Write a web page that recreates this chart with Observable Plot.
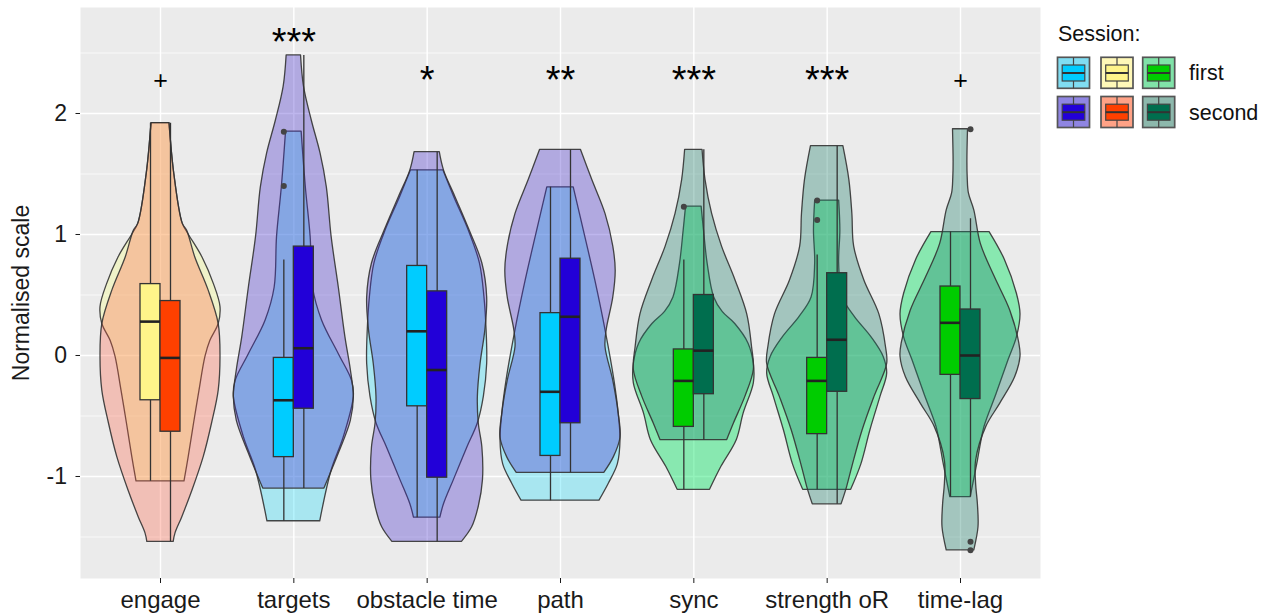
<!DOCTYPE html>
<html><head><meta charset="utf-8">
<script src="https://cdn.jsdelivr.net/npm/d3@7"></script>
<script src="https://cdn.jsdelivr.net/npm/@observablehq/plot@0.6"></script>
<style>
body{margin:0;background:#fff;}
#wrap{position:relative;width:1274px;height:616px;font-family:"Liberation Sans",Arial,Helvetica,sans-serif;}
#legend{position:absolute;left:1040px;top:0;}
</style></head><body><div id="wrap"></div>
<script>
// ---- data ----
const categories = ["engage","targets","obstacle time","path","sync","strength oR","time-lag"];
const sessions = ["first","second"];
const significance = ["+","***","*","**","***","***","+"];
const significanceY = [2.27,2.58,2.27,2.27,2.27,2.27,2.27];
const yTicks = [-1,0,1,2];
const yMinor = [-1.5,-0.5,0.5,1.5,2.5];

// violin profiles: [value, relative width (1 = widest)]
const engageFirst = [[1.92,.15],[1.5,.23],[1.09,.37],[1.0,.47],[0.81,.70],[0.59,.89],[0.40,1.0],[0.26,.97],[0.12,.83],[-0.01,.75],[-0.29,.65],[-0.56,.56],[-0.84,.47],[-1.04,.40]];
const engageSecond = [[1.92,.15],[1.5,.23],[1.09,.37],[1.03,.445],[0.81,.58],[0.54,.80],[0.26,.97],[-0.01,1.0],[-0.29,.97],[-0.56,.86],[-0.84,.72],[-1.12,.53],[-1.34,.36],[-1.47,.25],[-1.54,.22]];
const targetsFirst = [[1.85,.13],[1.39,.20],[0.98,.28],[0.56,.32],[0.29,.47],[0.01,.75],[-0.21,.97],[-0.34,1.0],[-0.68,.83],[-0.95,.63],[-1.37,.44]];
const targetsSecond = [[2.48,.12],[2.22,.17],[1.94,.30],[1.67,.445],[1.39,.55],[0.98,.63],[0.56,.75],[0.15,.86],[-0.12,.95],[-0.34,1.0],[-0.54,.95],[-0.81,.75],[-1.10,.51]];
const obstacleFirst = [[1.53,.27],[1.31,.45],[1.03,.695],[0.76,.88],[0.48,.955],[0.21,.99],[-0.07,1.0],[-0.34,.945],[-0.56,.845],[-0.76,.67],[-1.03,.445],[-1.23,.28],[-1.34,.22]];
const obstacleSecond = [[1.68,.21],[1.53,.28],[1.31,.47],[1.03,.71],[0.76,.92],[0.48,1.0],[0.21,.97],[-0.07,.89],[-0.34,.845],[-0.56,.86],[-0.76,.92],[-1.03,.93],[-1.25,.86],[-1.42,.75],[-1.54,.58]];
const pathFirst = [[1.39,.22],[1.03,.39],[0.62,.58],[0.21,.75],[-0.21,.90],[-0.48,.97],[-0.70,1.0],[-0.90,.955],[-1.06,.805],[-1.20,.65]];
const pathSecond = [[1.70,.34],[1.45,.53],[1.17,.75],[0.90,.88],[0.70,.92],[0.48,.88],[0.21,.77],[0.07,.75],[-0.21,.88],[-0.48,.97],[-0.68,1.0],[-0.84,.89],[-0.97,.73]];
const syncFirst = [[1.23,.13],[1.03,.17],[0.76,.23],[0.48,.34],[0.36,.48],[0.26,.69],[0.10,.91],[-0.07,1.0],[-0.23,1.0],[-0.48,.83],[-0.70,.715],[-0.92,.46],[-1.11,.27]];
const syncSecond = [[1.70,.145],[1.45,.195],[1.17,.305],[0.90,.47],[0.62,.695],[0.34,.89],[0.07,.97],[-0.12,1.0],[-0.34,.86],[-0.56,.67],[-0.70,.555]];
const strengthFirst = [[1.28,.20],[1.03,.22],[0.76,.20],[0.48,.26],[0.32,.46],[0.15,.74],[-0.01,.94],[-0.15,1.0],[-0.34,.89],[-0.62,.72],[-0.90,.57],[-1.11,.40]];
const strengthSecond = [[1.73,.27],[1.45,.37],[1.17,.42],[0.90,.45],[0.62,.62],[0.34,.87],[0.07,.98],[-0.07,1.0],[-0.34,.79],[-0.62,.59],[-0.92,.42],[-1.10,.325],[-1.23,.24]];
const timelagFirst = [[1.02,.485],[0.79,.74],[0.51,.94],[0.34,1.0],[0.15,.94],[-0.04,.80],[-0.32,.60],[-0.59,.40],[-0.73,.34],[-0.87,.29],[-1.17,.17]];
const timelagSecond = [[1.87,.125],[1.6,.115],[1.47,.12],[1.34,.14],[1.20,.23],[0.92,.34],[0.65,.57],[0.37,.83],[0.10,.98],[-0.01,1.0],[-0.18,.91],[-0.40,.66],[-0.59,.43],[-0.87,.26],[-1.06,.26],[-1.23,.29],[-1.42,.30],[-1.61,.23]];

const violinsFirst = [engageFirst,targetsFirst,obstacleFirst,pathFirst,syncFirst,strengthFirst,timelagFirst];
const violinsSecond = [engageSecond,targetsSecond,obstacleSecond,pathSecond,syncSecond,strengthSecond,timelagSecond];

// box stats: [lower whisker, q1, median, q3, upper whisker]
const boxFirst = [[-1.04,-0.37,0.28,0.59,1.92],[-1.37,-0.84,-0.37,-0.02,0.79],[-1.34,-0.42,0.20,0.74,1.53],[-1.20,-0.83,-0.30,0.35,1.39],[-1.11,-0.59,-0.21,0.05,0.79],[-1.11,-0.65,-0.21,-0.02,0.83],[-1.17,-0.16,0.27,0.57,1.02]];
const boxSecond = [[-1.54,-0.63,-0.02,0.45,1.92],[-1.10,-0.44,0.06,0.90,2.48],[-1.54,-1.01,-0.12,0.53,1.68],[-0.97,-0.56,0.32,0.80,1.70],[-0.70,-0.32,0.04,0.50,1.70],[-1.23,-0.30,0.13,0.68,1.73],[-1.17,-0.36,0.00,0.38,1.13]];
// outliers: [category index, session index, value]
const outliers = [[1,0,1.85],[1,0,1.40],[4,0,1.23],[5,0,1.28],[5,0,1.12],[6,1,1.87],[6,1,-1.54],[6,1,-1.61]];

// ---- styles ----
const family = [0,1,1,1,2,2,2];
const violinFill = [["rgba(246,255,138,0.35)","rgba(255,90,60,0.30)"],["rgba(44,221,249,0.35)","rgba(69,46,204,0.35)"],["rgba(15,228,104,0.45)","rgba(29,125,106,0.35)"]];
const boxFill = [["#FFF58A","#FF4000"],["#00CCFF","#2200D8"],["#00CC00","#006E4E"]];
const keyFill = [["#FFF8B8","#FFA286"],["#80DDF2","#8F85E2"],["#80E2A8","#8DB8AC"]];
const legendOrder = [1,0,2];
const HALF = 0.45, BOXW = 0.15;
const FONT = '"Liberation Sans",Arial,Helvetica,sans-serif';

const violinRows = [];
[violinsFirst, violinsSecond].forEach((set, s) => set.forEach((prof, i) => prof.forEach(([v, d]) => {
  violinRows.push({key: i + "-" + s, y: v, x1: i + 1 - d * HALF, x2: i + 1 + d * HALF, fill: violinFill[family[i]][s], s});
})));
const boxRows = [];
[boxFirst, boxSecond].forEach((set, s) => set.forEach((b, i) => {
  const x1 = s === 0 ? i + 1 - BOXW : i + 1, x2 = x1 + BOXW;
  boxRows.push({x1, x2, xm: (x1 + x2) / 2, lw: b[0], q1: b[1], med: b[2], q3: b[3], uw: b[4], fill: boxFill[family[i]][s]});
}));
const outlierRows = outliers.map(([i, s, v]) => ({x: s === 0 ? i + 1 - BOXW / 2 : i + 1 + BOXW / 2, y: v}));
const catIdx = categories.map((c, i) => i + 1);
const sigRows = categories.map((c, i) => ({x: i + 1, y: significanceY[i], t: significance[i], fs: significance[i] === "+" ? 25 : 38}));

const violinOpts = {y: "y", x1: "x1", x2: "x2", z: "key", fill: "fill", stroke: "#333", strokeWidth: 1.3, strokeOpacity: 0.9, curve: "catmull-rom"};

const plot = Plot.plot({
  width: 1274, height: 616,
  marginTop: 7, marginBottom: 38, marginLeft: 80, marginRight: 234,
  style: {fontFamily: FONT, fontSize: "24px", color: "#1a1a1a", background: "white"},
  x: {domain: [0.4, 7.6]},
  y: {domain: [-1.843, 2.876]},
  marks: [
    Plot.frame({fill: "#EBEBEB", stroke: null}),
    Plot.ruleY(yMinor, {stroke: "white", strokeWidth: 0.7}),
    Plot.ruleY(yTicks, {stroke: "white", strokeWidth: 1.4}),
    Plot.ruleX(catIdx, {stroke: "white", strokeWidth: 1.4}),
    Plot.areaX(violinRows.filter(d => d.s === 0), violinOpts),
    Plot.areaX(violinRows.filter(d => d.s === 1), violinOpts),
    Plot.ruleX(boxRows, {x: "xm", y1: "lw", y2: "uw", stroke: "#333", strokeWidth: 1.3}),
    Plot.rect(boxRows, {x1: "x1", x2: "x2", y1: "q1", y2: "q3", fill: "fill", stroke: "#333", strokeWidth: 1.3}),
    Plot.ruleY(boxRows, {y: "med", x1: "x1", x2: "x2", stroke: "#222", strokeWidth: 2.6}),
    Plot.dot(outlierRows, {x: "x", y: "y", r: 3, fill: "#444", stroke: null}),
    Plot.text(sigRows, {x: "x", y: "y", text: "t", fontSize: "fs", fill: "black"}),
    Plot.axisY({ticks: yTicks, tickFormat: d => String(d), tickSize: 4.5, tickPadding: 9, fontSize: 23, label: "Normalised scale", labelAnchor: "center", labelOffset: 68, labelArrow: "none"}),
    Plot.axisX({ticks: catIdx, tickFormat: i => categories[i - 1], tickSize: 5, tickPadding: 7, fontSize: 24, label: null})
  ]
});
document.getElementById("wrap").appendChild(plot);

// ---- legend ----
const legend = d3.select("#wrap").append("div").attr("id", "legend").append("svg").attr("width", 234).attr("height", 140).style("font-family", FONT);
legend.append("text").attr("x", 18).attr("y", 41).attr("font-size", 21.5).attr("fill", "#111").text("Session:");
const colX = [17.5, 61, 102.7], rowY = [57.3, 96.5], KW = 32, KH = 31;
sessions.forEach((s, r) => {
  legendOrder.forEach((f, c) => {
    const g = legend.append("g").attr("transform", `translate(${colX[c]},${rowY[r]})`);
    g.append("rect").attr("x", 0).attr("y", 0).attr("width", KW).attr("height", KH).attr("fill", keyFill[f][r]).attr("stroke", "#555").attr("stroke-width", 1.7);
    g.append("line").attr("x1", KW / 2).attr("x2", KW / 2).attr("y1", 0).attr("y2", KH).attr("stroke", "#444").attr("stroke-width", 1.2);
    g.append("rect").attr("x", 4.7).attr("y", 7.7).attr("width", KW - 9.4).attr("height", 16).attr("fill", boxFill[f][r]).attr("stroke", "#444").attr("stroke-width", 1.2);
    g.append("line").attr("x1", 4.7).attr("x2", KW - 4.7).attr("y1", 15.7).attr("y2", 15.7).attr("stroke", "#333").attr("stroke-width", 2);
  });
  legend.append("text").attr("x", 149).attr("y", rowY[r] + KH / 2 + 7.5).attr("font-size", 21.5).attr("fill", "#111").text(s);
});
</script></body></html>
